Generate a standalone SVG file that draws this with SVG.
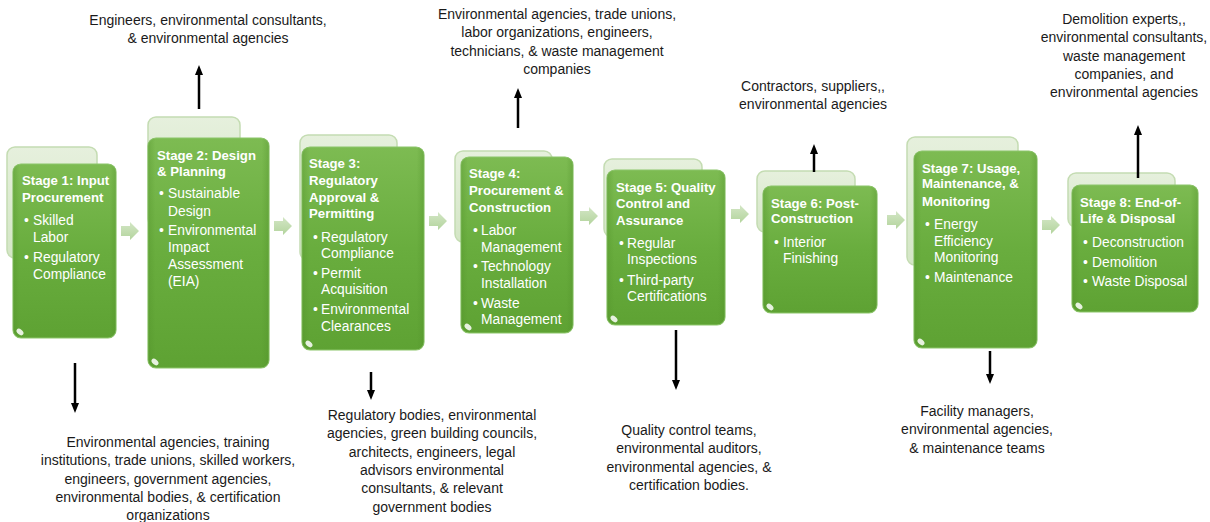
<svg xmlns="http://www.w3.org/2000/svg" width="1210" height="522" viewBox="0 0 1210 522">
<style>
text{font-family:"Liberation Sans",Arial,sans-serif;}
.t{font-size:13.2px;font-weight:bold;fill:#ffffff;}
.b{font-size:13.8px;fill:#ffffff;}
.o{font-size:14px;fill:#1a1a1a;text-anchor:middle;}
.front{fill:url(#gFront);stroke:#8cc56a;stroke-width:1.2;}
.edge{fill:url(#gEdge);}
.back{fill:url(#gBack);stroke:#c4dcb2;stroke-width:1.5;}
.chev{fill:url(#gChev);}
.gloss{fill:#ffffff;opacity:0.85;}
.con{stroke:#000000;stroke-width:2.5;fill:none;marker-end:url(#ah);}
</style>
<defs>
<linearGradient id="gFront" x1="0" y1="0" x2="0" y2="1">
<stop offset="0" stop-color="#7dbb52"/>
<stop offset="0.5" stop-color="#69ad3e"/>
<stop offset="1" stop-color="#5ea233"/>
</linearGradient>
<linearGradient id="gEdge" x1="0" y1="0" x2="1" y2="0">
<stop offset="0" stop-color="#4f8f28" stop-opacity="0.35"/>
<stop offset="0.06" stop-color="#4f8f28" stop-opacity="0"/>
<stop offset="0.94" stop-color="#4f8f28" stop-opacity="0"/>
<stop offset="1" stop-color="#4f8f28" stop-opacity="0.35"/>
</linearGradient>
<linearGradient id="gBack" x1="0" y1="0" x2="0" y2="1">
<stop offset="0" stop-color="#e6f0dd"/>
<stop offset="1" stop-color="#d4e6c6"/>
</linearGradient>
<linearGradient id="gChev" x1="0" y1="0" x2="0" y2="1">
<stop offset="0" stop-color="#d3e6c5"/>
<stop offset="1" stop-color="#b3d49d"/>
</linearGradient>
<path id="chev" d="M0,-5 H9 V-9 L18,0 L9,9 V5 H0 Z"/>
<marker id="ah" markerUnits="userSpaceOnUse" markerWidth="10" markerHeight="10" refX="5" refY="5" orient="auto">
<path d="M0,1 L10,5 L0,9 Z" fill="#000000"/>
</marker>
</defs>

<g id="stage1">
<rect class="back" x="7" y="147" width="90" height="111" rx="8"/>
<rect class="front" x="13" y="164" width="103" height="174" rx="8"/>
<rect class="edge" x="13" y="164" width="103" height="174" rx="8"/>
<ellipse class="gloss" cx="20" cy="332" rx="4" ry="2.5" transform="rotate(40 20 332)"/>
<text class="t" x="22" y="185">Stage 1: Input</text>
<text class="t" x="22" y="202">Procurement</text>
<text class="b" x="24" y="225">•</text>
<text class="b" x="33" y="225">Skilled</text>
<text class="b" x="33" y="242">Labor</text>
<text class="b" x="24" y="262">•</text>
<text class="b" x="33" y="262">Regulatory</text>
<text class="b" x="33" y="279">Compliance</text>
</g>

<g id="stage2">
<rect class="back" x="148" y="117" width="92" height="110" rx="8"/>
<rect class="front" x="148" y="138" width="121" height="230" rx="8"/>
<rect class="edge" x="148" y="138" width="121" height="230" rx="8"/>
<ellipse class="gloss" cx="155" cy="362" rx="4" ry="2.5" transform="rotate(40 155 362)"/>
<text class="t" x="157" y="160">Stage 2: Design</text>
<text class="t" x="157" y="176">&amp; Planning</text>
<text class="b" x="159" y="198">•</text>
<text class="b" x="168" y="198">Sustainable</text>
<text class="b" x="168" y="216">Design</text>
<text class="b" x="159" y="235">•</text>
<text class="b" x="168" y="235">Environmental</text>
<text class="b" x="168" y="252">Impact</text>
<text class="b" x="168" y="269">Assessment</text>
<text class="b" x="168" y="286">(EIA)</text>
</g>

<g id="stage3">
<rect class="back" x="300" y="135" width="97" height="125" rx="8"/>
<rect class="front" x="302" y="147" width="122" height="203" rx="8"/>
<rect class="edge" x="302" y="147" width="122" height="203" rx="8"/>
<ellipse class="gloss" cx="309" cy="344" rx="4" ry="2.5" transform="rotate(40 309 344)"/>
<text class="t" x="309" y="168">Stage 3:</text>
<text class="t" x="309" y="185">Regulatory</text>
<text class="t" x="309" y="202">Approval &amp;</text>
<text class="t" x="309" y="218">Permitting</text>
<text class="b" x="313" y="242">•</text>
<text class="b" x="321" y="242">Regulatory</text>
<text class="b" x="321" y="258">Compliance</text>
<text class="b" x="313" y="278">•</text>
<text class="b" x="321" y="278">Permit</text>
<text class="b" x="321" y="294">Acquisition</text>
<text class="b" x="313" y="314">•</text>
<text class="b" x="321" y="314">Environmental</text>
<text class="b" x="321" y="331">Clearances</text>
</g>

<g id="stage4">
<rect class="back" x="455" y="151" width="97" height="91" rx="8"/>
<rect class="front" x="461" y="157" width="112" height="176" rx="8"/>
<rect class="edge" x="461" y="157" width="112" height="176" rx="8"/>
<ellipse class="gloss" cx="468" cy="327" rx="4" ry="2.5" transform="rotate(40 468 327)"/>
<text class="t" x="469" y="178">Stage 4:</text>
<text class="t" x="469" y="195">Procurement &amp;</text>
<text class="t" x="469" y="212">Construction</text>
<text class="b" x="473" y="235">•</text>
<text class="b" x="481" y="235">Labor</text>
<text class="b" x="481" y="252">Management</text>
<text class="b" x="473" y="271">•</text>
<text class="b" x="481" y="271">Technology</text>
<text class="b" x="481" y="288">Installation</text>
<text class="b" x="473" y="308">•</text>
<text class="b" x="481" y="308">Waste</text>
<text class="b" x="481" y="324">Management</text>
</g>

<g id="stage5">
<rect class="back" x="604" y="159" width="98" height="78" rx="8"/>
<rect class="front" x="607" y="170" width="118" height="155" rx="8"/>
<rect class="edge" x="607" y="170" width="118" height="155" rx="8"/>
<ellipse class="gloss" cx="614" cy="319" rx="4" ry="2.5" transform="rotate(40 614 319)"/>
<text class="t" x="616" y="192">Stage 5: Quality</text>
<text class="t" x="616" y="208">Control and</text>
<text class="t" x="616" y="225">Assurance</text>
<text class="b" x="619" y="248">•</text>
<text class="b" x="627" y="248">Regular</text>
<text class="b" x="627" y="264">Inspections</text>
<text class="b" x="619" y="285">•</text>
<text class="b" x="627" y="285">Third-party</text>
<text class="b" x="627" y="301">Certifications</text>
</g>

<g id="stage6">
<rect class="back" x="757" y="171" width="98" height="61" rx="8"/>
<rect class="front" x="763" y="186" width="114" height="127" rx="8"/>
<rect class="edge" x="763" y="186" width="114" height="127" rx="8"/>
<ellipse class="gloss" cx="770" cy="307" rx="4" ry="2.5" transform="rotate(40 770 307)"/>
<text class="t" x="771" y="208">Stage 6: Post-</text>
<text class="t" x="771" y="223">Construction</text>
<text class="b" x="774" y="247">•</text>
<text class="b" x="783" y="247">Interior</text>
<text class="b" x="783" y="263">Finishing</text>
</g>

<g id="stage7">
<rect class="back" x="907" y="137" width="111" height="128" rx="8"/>
<rect class="front" x="914" y="151" width="123" height="197" rx="8"/>
<rect class="edge" x="914" y="151" width="123" height="197" rx="8"/>
<ellipse class="gloss" cx="921" cy="342" rx="4" ry="2.5" transform="rotate(40 921 342)"/>
<text class="t" x="922" y="173">Stage 7: Usage,</text>
<text class="t" x="922" y="188">Maintenance, &amp;</text>
<text class="t" x="922" y="206">Monitoring</text>
<text class="b" x="925" y="229">•</text>
<text class="b" x="934" y="229">Energy</text>
<text class="b" x="934" y="246">Efficiency</text>
<text class="b" x="934" y="262">Monitoring</text>
<text class="b" x="925" y="282">•</text>
<text class="b" x="934" y="282">Maintenance</text>
</g>

<g id="stage8">
<rect class="back" x="1068" y="173" width="107" height="54" rx="8"/>
<rect class="front" x="1072" y="185" width="126" height="127" rx="8"/>
<rect class="edge" x="1072" y="185" width="126" height="127" rx="8"/>
<ellipse class="gloss" cx="1079" cy="306" rx="4" ry="2.5" transform="rotate(40 1079 306)"/>
<text class="t" x="1080" y="207">Stage 8: End-of-</text>
<text class="t" x="1080" y="223">Life &amp; Disposal</text>
<text class="b" x="1083" y="247">•</text>
<text class="b" x="1092" y="247">Deconstruction</text>
<text class="b" x="1083" y="267">•</text>
<text class="b" x="1092" y="267">Demolition</text>
<text class="b" x="1083" y="286">•</text>
<text class="b" x="1092" y="286">Waste Disposal</text>
</g>

<g id="flow-arrows">
<use href="#chev" class="chev" x="121" y="231"/>
<use href="#chev" class="chev" x="274" y="226"/>
<use href="#chev" class="chev" x="429" y="221"/>
<use href="#chev" class="chev" x="580" y="216"/>
<use href="#chev" class="chev" x="731" y="214"/>
<use href="#chev" class="chev" x="887" y="220"/>
<use href="#chev" class="chev" x="1042" y="225"/>
</g>

<g id="connectors">
<line class="con" x1="199" y1="109" x2="199" y2="70"/>
<line class="con" x1="518" y1="128" x2="518" y2="93"/>
<line class="con" x1="814" y1="172" x2="814" y2="149"/>
<line class="con" x1="1138" y1="178" x2="1138" y2="130"/>
<line class="con" x1="75" y1="363" x2="75" y2="408"/>
<line class="con" x1="371" y1="372" x2="371" y2="395"/>
<line class="con" x1="676" y1="330" x2="676" y2="385"/>
<line class="con" x1="990" y1="351" x2="990" y2="379"/>
</g>

<g id="labels">
<text class="o" x="208" y="25">Engineers, environmental consultants,<tspan x="208" dy="18.3">&amp; environmental agencies</tspan></text>
<text class="o" x="557" y="19">Environmental agencies, trade unions,<tspan x="557" dy="18.3">labor organizations, engineers,</tspan><tspan x="557" dy="18.3">technicians, &amp; waste management</tspan><tspan x="557" dy="18.3">companies</tspan></text>
<text class="o" x="813" y="91">Contractors, suppliers,,<tspan x="813" dy="18.3">environmental agencies</tspan></text>
<text class="o" x="1124" y="24">Demolition experts,,<tspan x="1124" dy="18.3">environmental consultants,</tspan><tspan x="1124" dy="18.3">waste management</tspan><tspan x="1124" dy="18.3">companies, and</tspan><tspan x="1124" dy="18.3">environmental agencies</tspan></text>
<text class="o" x="168" y="447">Environmental agencies, training<tspan x="168" dy="18.3">institutions, trade unions, skilled workers,</tspan><tspan x="168" dy="18.3">engineers, government agencies,</tspan><tspan x="168" dy="18.3">environmental bodies, &amp; certification</tspan><tspan x="168" dy="18.3">organizations</tspan></text>
<text class="o" x="432" y="420">Regulatory bodies, environmental<tspan x="432" dy="18.3">agencies, green building councils,</tspan><tspan x="432" dy="18.3">architects, engineers, legal</tspan><tspan x="432" dy="18.3">advisors environmental</tspan><tspan x="432" dy="18.3">consultants, &amp; relevant</tspan><tspan x="432" dy="18.3">government bodies</tspan></text>
<text class="o" x="689" y="435">Quality control teams,<tspan x="689" dy="18.3">environmental auditors,</tspan><tspan x="689" dy="18.3">environmental agencies, &amp;</tspan><tspan x="689" dy="18.3">certification bodies.</tspan></text>
<text class="o" x="977" y="416">Facility managers,<tspan x="977" dy="18.3">environmental agencies,</tspan><tspan x="977" dy="18.3">&amp; maintenance teams</tspan></text>
</g>
</svg>
